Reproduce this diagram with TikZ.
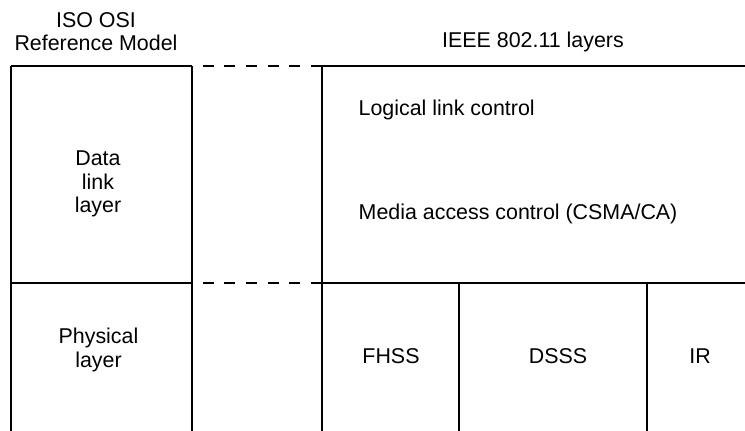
\documentclass[tikz,border=0pt]{standalone}
\usepackage{fontspec}
\setmainfont{Liberation Sans}
\begin{document}
\begin{tikzpicture}[x=0.5pt, y=-0.5pt, font=\fontsize{10.7}{11.75}\selectfont, line width=0.7pt, line cap=butt,
    lbl/.style={inner sep=0pt, align=center},
    gap/.style={dash pattern=on 5.5pt off 5.35pt}]
    \useasboundingbox (0,0) rectangle (745,431);

    % Raster der Tabelle
    \coordinate (A0) at (11,66);   \coordinate (B0) at (192,66);  \coordinate (C0) at (322,66);  \coordinate (E0) at (745,66);
    \coordinate (A1) at (11,283);  \coordinate (B1) at (192,283); \coordinate (C1) at (322,283); \coordinate (E1) at (745,283);
    \coordinate (A2) at (11,431);  \coordinate (B2) at (192,431); \coordinate (C2) at (322,431);
    \coordinate (D1) at (459,283); \coordinate (D2) at (459,431);
    \coordinate (F1) at (647,283); \coordinate (F2) at (647,431);

    % Waagerechte Linien
    \draw (A0) -- (B0);
    \draw[gap] (C0) -- (B0);
    \draw (C0) -- (E0);
    \draw (A1) -- (B1);
    \draw[gap] (C1) -- (B1);
    \draw (C1) -- (E1);

    % Senkrechte Linien (unten offen)
    \draw (A0) -- (A2);
    \draw (B0) -- (B2);
    \draw (C0) -- (C2);
    \draw (D1) -- (D2);
    \draw (F1) -- (F2);

    % Ueberschriften
    \node[lbl] (iso) at (96,31.5) {ISO OSI\\Reference Model};
    \node[lbl] (ieee) at (533,42) {IEEE 802.11 layers};

    % Schichten
    \node[lbl] (dll) at (98,184.3) {Data\\link\\layer};
    \node[lbl] (phy) at (98.5,350) {Physical\\layer};
    \node[lbl, anchor=west] (llc) at (358,110.2) {Logical link control};
    \node[lbl, anchor=west] (mac) at (358,213.6) {Media access control (CSMA/CA)};
    \node[lbl] (fhss) at (391,355.8) {FHSS};
    \node[lbl] (dsss) at (558,355.8) {DSSS};
    \node[lbl] (ir) at (700,355.8) {IR};
\end{tikzpicture}
\end{document}
